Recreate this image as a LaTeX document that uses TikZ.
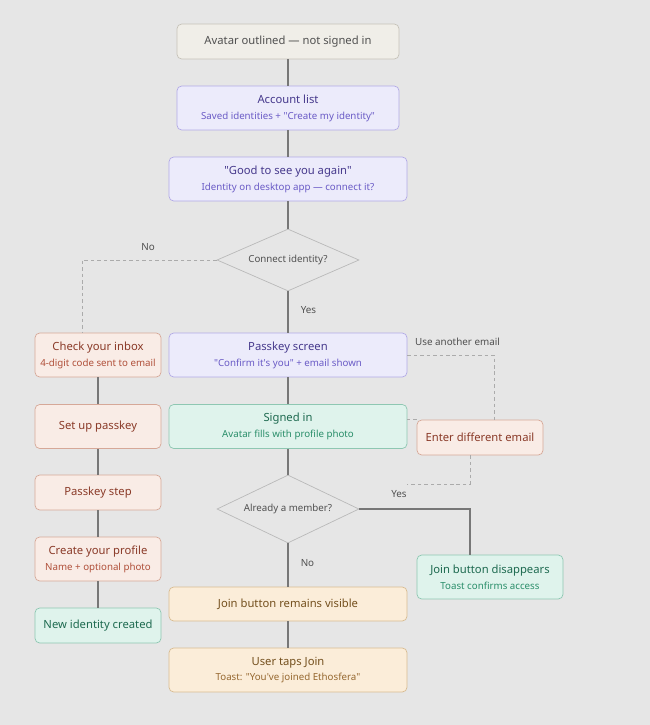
\documentclass[tikz,border=0pt]{standalone}
\usepackage{fontspec}
\setmainfont{Noto Sans}
\usepackage{tikz}
\usetikzlibrary{shapes.geometric}

\definecolor{canvas}{HTML}{E6E6E6}
\definecolor{startfill}{HTML}{F0EEE8}
\definecolor{startline}{HTML}{C6C2B8}
\definecolor{starttext}{HTML}{505050}
\definecolor{lilacfill}{HTML}{ECEBFB}
\definecolor{lilacline}{HTML}{B2AAE6}
\definecolor{lilactext}{HTML}{46398C}
\definecolor{lilacsub}{HTML}{6A5BC6}
\definecolor{peachfill}{HTML}{F9ECE6}
\definecolor{peachline}{HTML}{D6A898}
\definecolor{peachtext}{HTML}{8A3A28}
\definecolor{peachsub}{HTML}{B0503A}
\definecolor{mintfill}{HTML}{DFF3EC}
\definecolor{mintline}{HTML}{8EC7B2}
\definecolor{minttext}{HTML}{1E6A50}
\definecolor{mintsub}{HTML}{2A8E6A}
\definecolor{sandfill}{HTML}{FBEDD9}
\definecolor{sandline}{HTML}{D8BC92}
\definecolor{sandtext}{HTML}{74501E}
\definecolor{sandsub}{HTML}{966830}
\definecolor{wire}{HTML}{777777}
\definecolor{altwire}{HTML}{ABABAB}

% second line of a box, coloured by the box style
\newcommand{\subline}[1]{\\[1.5pt]{\fontsize{8.3}{10}\selectfont\color{\subcol}#1}}
\def\subcol{black}
\newcommand{\qq}{\textquotedbl}
\newcommand{\ap}{\textquotesingle}

\begin{document}
\begin{tikzpicture}[x=0.03cm, y=-0.03cm,
  box/.style ={draw, rounded corners=4pt, line width=0.6pt, align=center,
    inner sep=0pt, font=\fontsize{9.6}{12}\selectfont},
  % 
  start/.style ={box, fill=startfill, draw=startline, text=starttext},
  lilac/.style ={box, fill=lilacfill, draw=lilacline, text=lilactext,
    execute at begin node=\def\subcol{lilacsub}},
  peach/.style ={box, fill=peachfill, draw=peachline, text=peachtext,
    execute at begin node=\def\subcol{peachsub}},
  mint/.style ={box, fill=mintfill, draw=mintline, text=minttext,
    execute at begin node=\def\subcol{mintsub}},
  sand/.style ={box, fill=sandfill, draw=sandline, text=sandtext,
    execute at begin node=\def\subcol{sandsub}},
  decision/.style ={diamond, draw=gray!55, fill=canvas, line width=0.6pt,
    aspect=2.3, inner sep=0pt, text=starttext,
    font=\fontsize{8.3}{10}\selectfont},
  % 
  wide/.style ={minimum width=7.14cm},
  mid/.style ={minimum width=6.66cm},
  narrow/.style ={minimum width=3.78cm},
  oneline/.style ={minimum height=1.05cm},
  twoline/.style ={minimum height=1.32cm},
  flow/.style ={draw=wire, line width=1.1pt},
  alt/.style ={draw=altwire, line width=0.8pt, dash pattern=on 3pt off 2.5pt},
  tag/.style ={text=starttext, font=\fontsize{8.4}{10}\selectfont} ]

  \fill[canvas] (0,0) rectangle (650,725);
  \useasboundingbox (0,0) rectangle (650,725);

  %%%%%%%%%%%%%%%%%%%%%%%%%%%%%%% main column
  \node [start, mid, oneline] (outlined) at (288,41.5)
    {Avatar outlined — not signed in};
  \node [lilac, mid, twoline] (accounts) at (288,108)
    {Account list\subline{Saved identities + \qq Create my identity\qq}};
  \node [lilac, wide, twoline] (welcome) at (288,179)
    {\qq Good to see you again\qq\subline{Identity on desktop app — connect it?}};
  \node [decision, minimum width=4.26cm, minimum height=1.86cm] (connect)
    at (288,260) {Connect identity?};
  \node [lilac, wide, twoline] (passkey) at (288,355)
    {Passkey screen\subline{\qq Confirm it\ap s you\qq\ + email shown}};
  \node [mint, wide, twoline] (signedin) at (288,426.5)
    {Signed in\subline{Avatar fills with profile photo}};
  \node [decision, minimum width=4.26cm, minimum height=2.04cm] (member)
    at (288,509) {Already a member?};
  \node [sand, wide, minimum height=1.02cm] (remains) at (288,604)
    {Join button remains visible};
  \node [sand, wide, twoline] (taps) at (288,670)
    {User taps Join\subline{Toast: \qq You\ap ve joined Ethosfera\qq}};

  %%%%%%%%%%%%%%%%%%%%%%%%%%%%%%% new identity column
  \node [peach, narrow, twoline] (inbox) at (98,355)
    {Check your inbox\subline{4-digit code sent to email}};
  \node [peach, narrow, twoline] (setup) at (98,426.5) {Set up passkey};
  \node [peach, narrow, oneline] (pkstep) at (98,492.5) {Passkey step};
  \node [peach, narrow, twoline] (profile) at (98,559)
    {Create your profile\subline{Name + optional photo}};
  \node [mint, narrow, oneline] (created) at (98,625.5) {New identity created};

  %%%%%%%%%%%%%%%%%%%%%%%%%%%%%%% right side
  \node [peach, narrow, oneline] (otheremail) at (480,437.5)
    {Enter different email};
  \node [mint, minimum width=4.38cm, twoline] (disappears) at (490,577)
    {Join button disappears\subline{Toast confirms access}};

  \coordinate (noturn) at (82,260);
  \coordinate (mailturn) at (494,355);
  \coordinate (backturn) at (470,484);
  \coordinate (backend) at (407,484);
  \coordinate (yesturn) at (470,509);

  \begin{scope}
    \draw [flow] (outlined) -- (accounts);
    \draw [flow] (accounts) -- (welcome);
    \draw [flow] (welcome) -- (connect);
    \draw [flow] (connect) -- (passkey) node [pos=0.45, right=7pt, tag] {Yes};
    \draw [flow] (passkey) -- (signedin);
    \draw [flow] (signedin) -- (member);
    \draw [flow] (member) -- (remains) node [pos=0.45, right=7pt, tag] {No};
    \draw [flow] (remains) -- (taps);
    \draw [flow] (member.east) -- (yesturn) -- (yesturn |- disappears.north);
    \node [tag] (yeslabel) at (399,494) {Yes};
    \draw [flow] (inbox) -- (setup);
    \draw [flow] (setup) -- (pkstep);
    \draw [flow] (pkstep) -- (profile);
    \draw [flow] (profile) -- (created);
    % dashed branches
    \draw [alt] (connect.west) -- (noturn) -- (noturn |- inbox.north);
    \node [tag] (nolabel) at (148,247) {No};
    \draw [alt] (passkey.east) -- (mailturn) -- (mailturn |- otheremail.north);
    \draw [alt] (otheremail.north west) -- (signedin.east |- otheremail.north);
    \node [tag, anchor=west] (maillabel) at (411,342) {Use another email};
    \draw [alt] (backturn |- otheremail.south) -- (backturn) -- (backend);
  \end{scope}

\end{tikzpicture}
\end{document}
